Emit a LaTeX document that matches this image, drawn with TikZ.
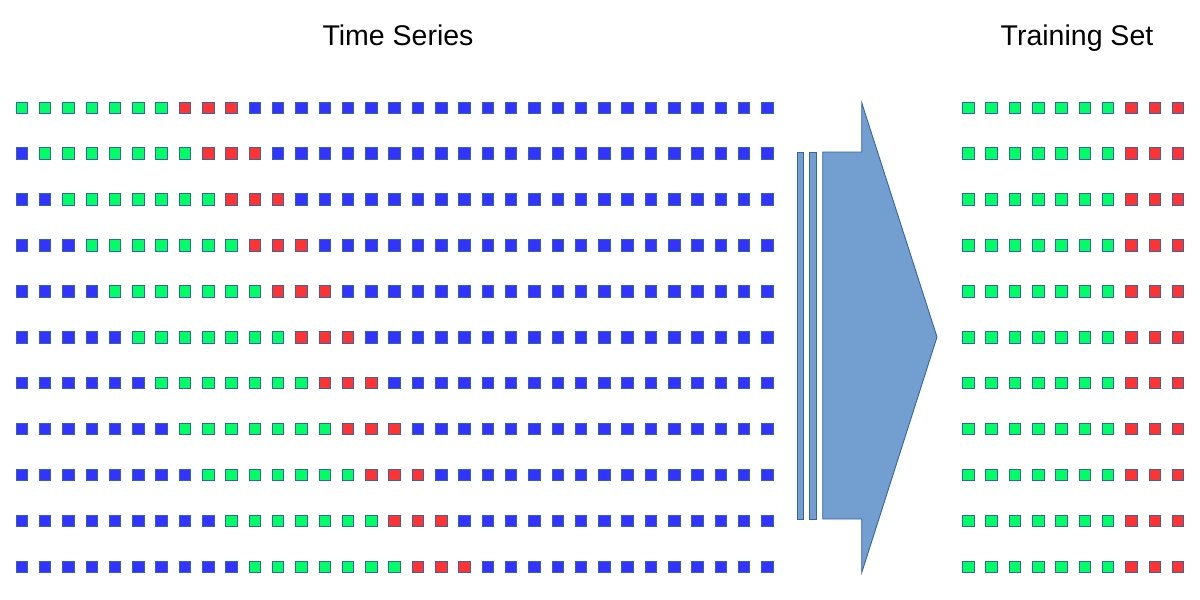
\documentclass[tikz,border=0pt]{standalone}
\usepackage{fontspec}
\setmainfont{Liberation Sans}
\usepackage{tikz}

\definecolor{sqblue}{HTML}{3333FF}
\definecolor{sqgreen}{HTML}{00FF66}
\definecolor{sqred}{HTML}{FF3333}
\definecolor{sqline}{HTML}{3465A4}
\definecolor{arrowfill}{HTML}{729FCF}

\tikzset{
	cell/.style={shape=rectangle,draw=sqline,line width=0.9pt,minimum size=11.5pt,inner sep=0pt},
	title/.style={anchor=base,font=\fontsize{28.5}{32}\selectfont},
	bigarrow/.style={fill=arrowfill,draw=sqline,line width=0.9pt,line join=miter}
}

\begin{document}
\begin{tikzpicture}[x=1pt,y=-1pt]
	
	\useasboundingbox (0, 0) rectangle (1200, 600);
	
	\node[title] (ts) at (398, 45.5)   {Time Series};
	\node[title] (tr) at (1077, 45.5)   {Training Set};
	
	\foreach \r in {0,...,10}
	\foreach \c in {0,...,32} {
		\def\col{sqblue}
		\ifnum\c<\r\else\ifnum\c<\numexpr\r+7\relax\def\col{sqgreen}\else\ifnum\c<\numexpr\r+10\relax\def\col{sqred}\fi\fi\fi
		\node[cell,fill=\col] (s-\r-\c) at ({21.8+23.3*\c}, {107.7+45.9*\r})   {};
	}
	
	\foreach \r in {0,...,10}
	\foreach \c in {0,...,9} {
		\def\col{sqgreen}
		\ifnum\c>6 \def\col{sqred}\fi
		\node[cell,fill=\col] (t-\r-\c) at ({968.3+23.3*\c}, {107.7+45.9*\r})   {};
	}
	
	\draw[bigarrow] (797.3, 152) rectangle (803.7, 519);
	\draw[bigarrow] (809.3, 152) rectangle (816.3, 519);
	\draw[bigarrow] (822.7, 152) -- (861.7, 152) -- (861.7, 102.7) -- (937, 337)
		-- (861.7, 572.7) -- (861.7, 519) -- (822.7, 519) -- cycle;
	
\end{tikzpicture}
\end{document}
